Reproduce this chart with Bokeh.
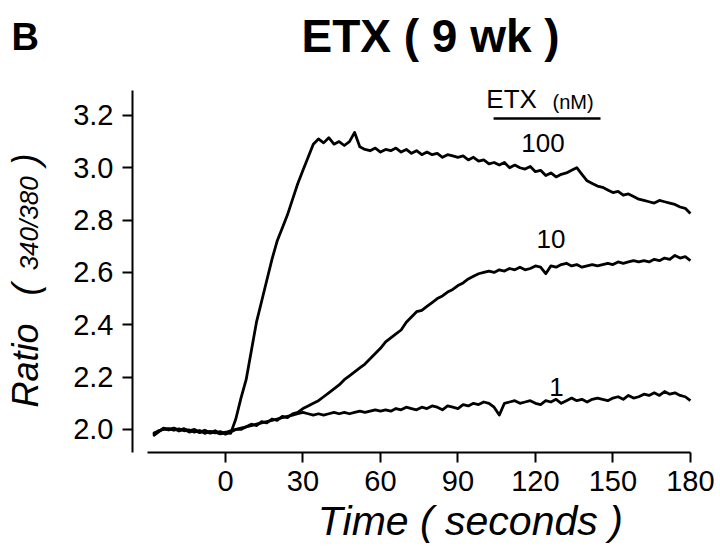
import math
from bokeh.plotting import figure
from bokeh.models import Label, Range1d, FixedTicker, NumeralTickFormatter
from bokeh.embed import file_html
from bokeh.resources import INLINE

# ---------------- data ----------------
time_s = [
    -28, -26, -24, -22, -20, -18, -16, -14, -12, -10,
    -8, -6, -4, -2, 0, 2, 4, 6, 8, 10,
    12, 14, 16, 18, 20, 22, 24, 26, 28, 30,
    32, 34, 36, 38, 40, 42, 44, 46, 48, 50,
    52, 54, 56, 58, 60, 62, 64, 66, 68, 70,
    72, 74, 76, 78, 80, 82, 84, 86, 88, 90,
    92, 94, 96, 98, 100, 102, 104, 106, 108, 110,
    112, 114, 116, 118, 120, 122, 124, 126, 128, 130,
    132, 134, 136, 138, 140, 142, 144, 146, 148, 150,
    152, 154, 156, 158, 160, 162, 164, 166, 168, 170,
    172, 174, 176, 178, 180,
]

ratio_100nM = [
    1.975, 1.99, 2.005, 2.0, 2.005, 1.998, 2.003, 1.995, 2.0, 1.99,
    1.997, 1.988, 1.995, 1.985, 1.99, 1.985, 2.04, 2.12, 2.19, 2.30,
    2.41, 2.49, 2.57, 2.65, 2.72, 2.77, 2.82, 2.88, 2.94, 2.99,
    3.04, 3.09, 3.11, 3.095, 3.115, 3.09, 3.10, 3.085, 3.10, 3.135,
    3.08, 3.07, 3.065, 3.075, 3.06, 3.07, 3.065, 3.075, 3.06, 3.07,
    3.055, 3.065, 3.05, 3.06, 3.05, 3.055, 3.04, 3.05, 3.045, 3.04,
    3.045, 3.03, 3.04, 3.025, 3.03, 3.015, 3.02, 3.01, 3.02, 3.0,
    3.01, 3.0, 2.995, 3.005, 2.985, 2.99, 2.97, 2.98, 2.965, 2.975,
    2.98, 2.99, 3.0, 2.975, 2.95, 2.94, 2.93, 2.925, 2.915, 2.905,
    2.91, 2.895, 2.9, 2.89, 2.88, 2.875, 2.87, 2.865, 2.875, 2.87,
    2.865, 2.86, 2.85, 2.845, 2.825,
]

ratio_10nM = [
    1.98, 1.995, 2.0, 2.003, 1.997, 2.002, 1.995, 1.998, 1.99, 1.996,
    1.985, 1.993, 1.987, 1.992, 1.982, 1.99, 2.0, 2.005, 2.01, 2.02,
    2.015, 2.03, 2.025, 2.04, 2.035, 2.05, 2.045, 2.06, 2.065, 2.08,
    2.09, 2.1, 2.11, 2.125, 2.14, 2.155, 2.17, 2.19, 2.205, 2.22,
    2.235, 2.25, 2.27, 2.29, 2.31, 2.335, 2.35, 2.365, 2.38, 2.41,
    2.43, 2.45, 2.455, 2.47, 2.485, 2.5, 2.51, 2.525, 2.535, 2.55,
    2.56, 2.575, 2.585, 2.595, 2.6, 2.605, 2.6, 2.61, 2.605, 2.615,
    2.61, 2.62, 2.61, 2.615, 2.625, 2.62, 2.595, 2.625, 2.62, 2.63,
    2.635, 2.625, 2.63, 2.62, 2.625, 2.63, 2.625, 2.63, 2.635, 2.63,
    2.64, 2.635, 2.64, 2.645, 2.64, 2.645, 2.64, 2.65, 2.645, 2.655,
    2.65, 2.665, 2.655, 2.66, 2.645,
]

ratio_1nM = [
    1.985, 1.993, 2.002, 1.998, 2.004, 1.994, 2.0, 1.99, 1.997, 1.988,
    1.994, 1.986, 1.99, 1.983, 1.988, 1.995, 2.0, 2.0, 2.01, 2.015,
    2.02, 2.025, 2.03, 2.035, 2.04, 2.045, 2.05, 2.055, 2.06, 2.065,
    2.06, 2.055, 2.06, 2.055, 2.06, 2.065, 2.06, 2.065, 2.06, 2.065,
    2.07, 2.065, 2.07, 2.075, 2.07, 2.075, 2.07, 2.08, 2.075, 2.085,
    2.08, 2.075, 2.085, 2.08, 2.09, 2.085, 2.075, 2.09, 2.085, 2.08,
    2.095, 2.09, 2.1, 2.095, 2.105, 2.1, 2.085, 2.055, 2.1, 2.105,
    2.11, 2.1, 2.105, 2.11, 2.1, 2.095, 2.11, 2.105, 2.115, 2.1,
    2.11, 2.12, 2.11, 2.115, 2.105, 2.115, 2.12, 2.115, 2.11, 2.12,
    2.125, 2.115, 2.13, 2.12, 2.125, 2.135, 2.13, 2.14, 2.13, 2.145,
    2.135, 2.14, 2.13, 2.125, 2.11,
]

x_ticks = [0, 30, 60, 90, 120, 150, 180]
y_ticks = [2.0, 2.2, 2.4, 2.6, 2.8, 3.0, 3.2]
series_labels = ["100", "10", "1"]

FONT = "Liberation Sans"

# ---------------- figure ----------------
# The frame covers the whole canvas; the axes sit at fixed data locations
# so that titles and axis labels (Labels) are not clipped.
p = figure(
    width=716, height=547,
    x_range=Range1d(-87.1, 190.1), y_range=Range1d(1.549, 3.639),
    output_backend="svg", toolbar_location=None,
    min_border_left=0, min_border_right=0,
    min_border_top=0, min_border_bottom=0,
)
p.outline_line_color = None
p.grid.visible = False
p.background_fill_color = "white"
p.border_fill_color = "white"

for ys in (ratio_100nM, ratio_10nM, ratio_1nM):
    p.line(time_s, ys, line_color="black", line_width=2.8, line_join="round")

# axes styling
xa = p.xaxis[0]
ya = p.yaxis[0]
xa.fixed_location = 1.912
ya.fixed_location = -36
xa.ticker = FixedTicker(ticks=x_ticks)
ya.ticker = FixedTicker(ticks=y_ticks)
xa.formatter = NumeralTickFormatter(format="0")
ya.formatter = NumeralTickFormatter(format="0.0")
xa.bounds = (-30, 180)
ya.bounds = (1.912, 3.295)
for ax in (xa, ya):
    ax.axis_line_width = 2
    ax.axis_line_color = "black"
    ax.major_tick_line_width = 2
    ax.major_tick_line_color = "black"
    ax.major_tick_out = 10
    ax.major_tick_in = 0
    ax.minor_tick_line_color = None
    ax.major_label_text_font = FONT
    ax.major_label_text_font_size = "29px"
    ax.major_label_text_color = "black"
    ax.major_label_standoff = 9

# ---------------- text annotations ----------------
def lab(x, y, text, size, style="normal", align="left", angle=0.0):
    p.add_layout(Label(x=x, y=y, text=text, text_font=FONT,
                       text_font_size=size, text_font_style=style,
                       text_align=align, text_baseline="alphabetic",
                       text_color="black", angle=angle))

# panel letter and title
lab(-82.8, 3.500, "B", "38px", "bold")
lab(79.4, 3.502, "ETX ( 9 wk )", "46px", "bold", align="center")

# x axis label
lab(94.8, 1.6515, "Time ( seconds )", "41px", "italic", align="center")

# y axis label (rotated)
lab(-77.5, 2.084, "Ratio", "36px", "italic", angle=math.pi / 2)
lab(-77.5, 2.512, "(", "36px", "italic", angle=math.pi / 2)
lab(-76.1, 2.608, "340/380", "26px", "italic", angle=math.pi / 2)
lab(-77.5, 3.009, ")", "36px", "italic", angle=math.pi / 2)

# legend header
lab(101.0, 3.262, "ETX", "26px")
lab(126.6, 3.251, "(nM)", "20px")
p.segment(x0=[103.8], y0=[3.188], x1=[145.2], y1=[3.188],
          line_color="black", line_width=2.5)

# curve labels
lab(122.9, 3.095, series_labels[0], "26px", align="center")
lab(126.0, 2.728, series_labels[1], "26px", align="center")
lab(128.1, 2.163, series_labels[2], "26px", align="center")

open("out.html", "w").write(file_html(p, INLINE))
